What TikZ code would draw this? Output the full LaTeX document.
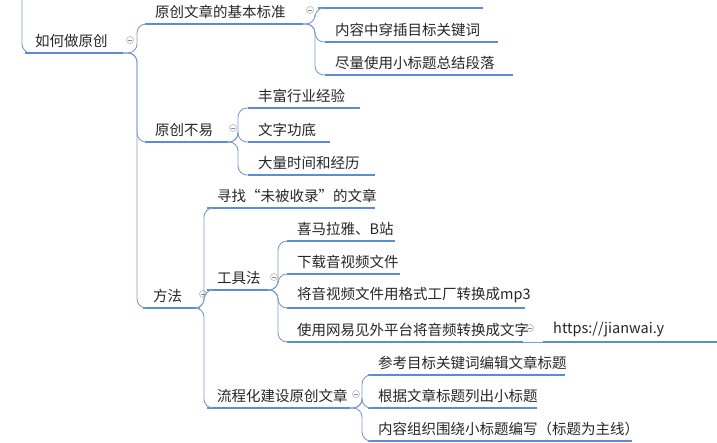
\documentclass[tikz,border=0pt]{standalone}
\usepackage{fontspec}
\setmainfont{Noto Sans CJK SC}
\begin{document}
\begin{tikzpicture}[x=1pt,y=-1pt,
  ul/.style={draw=lineblue,line width=2.6pt},
  cn/.style={draw=connblue,line width=0.9pt,rounded corners=9pt},
  tx/.style={anchor=south west,inner sep=1pt,font=\fontsize{14.5}{16}\selectfont,text=black!85},
  fold/.style={circle,draw=black!35,fill=white,inner sep=0pt,minimum size=7pt,line width=0.5pt}]
\definecolor{lineblue}{HTML}{5B8DD6}
\definecolor{connblue}{HTML}{7E9CC8}
\useasboundingbox (0,0) rectangle (717,443);
\clip (0,0) rectangle (717,443);
\newcommand\tp[5]{\coordinate (#1L) at (#2,#4); \coordinate (#1R) at (#3,#4);
  \path[ul] (#1L) -- (#1R); \node[tx] (#1) at (#2+9,#4-4) {#5};}
\newcommand\fd[2]{\node[fold] (#1) at (#2) {}; \draw[black!45,line width=0.5pt] ([xshift=-2pt]#1.center) -- ([xshift=2pt]#1.center);}
% root
\coordinate (up) at (22,-5);
\draw[cn] (up) -- (22,53) -- (25,53);
\tp{root}{25}{123}{53}{如何做原创}
\fd{froot}{130,40}
\tp{std}{145}{303}{24}{原创文章的基本标准}
\fd{fstd}{310,10}
\tp{hard}{145}{228}{142}{原创不易}
\fd{fhard}{233,128}
\tp{fa}{143}{200}{308}{方法}
\fd{ffa}{203,294}
\coordinate (bx) at (137,53);
\foreach \c in {std,hard,fa} \draw[cn] (rootR) -- (bx) -- (bx |- \c L) -- (\c L);
% std children
\coordinate (s0L) at (318,8); \coordinate (s0R) at (483,8); \path[ul] (s0L) -- (s0R);
\tp{s1}{325}{498}{42}{内容中穿插目标关键词}
\tp{s2}{325}{513}{75}{尽量使用小标题总结段落}
\coordinate (bs) at (315,24);
\foreach \c in {s0,s1,s2} \draw[cn] (stdR) -- (bs) -- (bs |- \c L) -- (\c L);
% hard children
\tp{h1}{248}{360}{108}{丰富行业经验}
\tp{h2}{248}{330}{142}{文字功底}
\tp{h3}{248}{375}{175}{大量时间和经历}
\coordinate (bh) at (238,142);
\foreach \c in {h1,h2,h3} \draw[cn] (hardR) -- (bh) -- (bh |- \c L) -- (\c L);
% fa children
\tp{f1}{207}{375}{208}{寻找“未被收录”的文章}
\tp{tool}{207}{268}{290}{工具法}
\fd{ftool}{274,277}
\tp{flow}{207}{350}{408}{流程化建设原创文章}
\fd{fflow}{356,394}
\coordinate (bf) at (204,308);
\foreach \c in {f1,tool,flow} \draw[cn] (faR) -- (bf) -- (bf |- \c L) -- (\c L);
% tool children
\tp{t1}{287}{395}{241}{喜马拉雅、B站}
\tp{t2}{287}{400}{274}{下载音视频文件}
\tp{t3}{287}{525}{308}{将音视频文件用格式工厂转换成mp3}
\tp{t4}{287}{523}{342}{使用网易见外平台将音频转换成文字}
\fd{ft4}{530,328}
\coordinate (bt) at (278,290);
\foreach \c in {t1,t2,t3,t4} \draw[cn] (toolR) -- (bt) -- (bt |- \c L) -- (\c L);
\tp{url}{543}{720}{342}{https://jianwai.y}
\draw[cn] (t4R) -- (urlL);
% flow children
\tp{w1}{368}{565}{375}{参考目标关键词编辑文章标题}
\tp{w2}{368}{537}{408}{根据文章标题列出小标题}
\tp{w3}{368}{632}{441}{内容组织围绕小标题编写（标题为主线）}
\coordinate (bw) at (362,408);
\foreach \c in {w1,w2,w3} \draw[cn] (flowR) -- (bw) -- (bw |- \c L) -- (\c L);
\end{tikzpicture}
\end{document}
